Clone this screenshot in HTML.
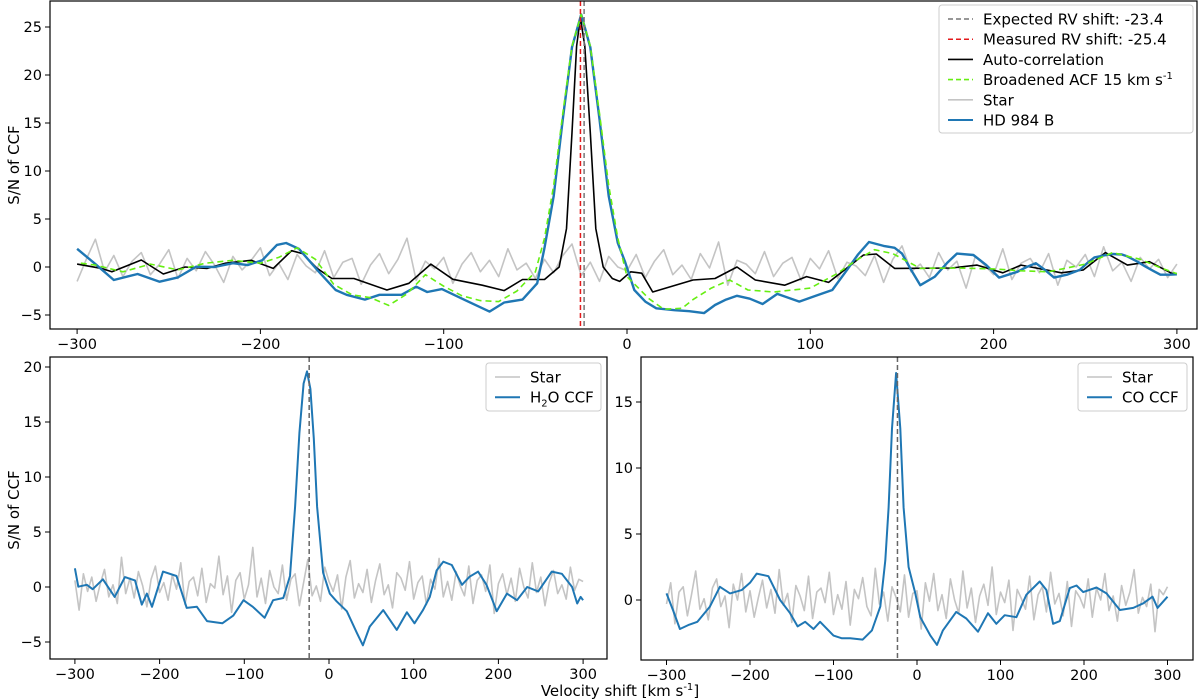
<!DOCTYPE html>
<html><head><meta charset="utf-8">
<style>
html,body{margin:0;padding:0;background:#fff;}
svg{display:block;font-family:"DejaVu Sans","Liberation Sans",sans-serif;}
</style></head>
<body>
<svg id="chart" width="1200" height="700" viewBox="0 0 1200 700" xmlns="http://www.w3.org/2000/svg"></svg>
<script>
const xTicks = [-300,-200,-100,0,100,200,300];
const topYTicks = [-5,0,5,10,15,20,25];
const h2oYTicks = [-5,0,5,10,15,20];
const coYTicks = [0,5,10,15];
const expectedRV = -23.4;
const measuredRV = -25.4;
const starStep = 5;

const topStar = [-1.5,0.8,2.9,-0.5,1.2,-1.0,0.6,1.5,-0.8,0.3,1.8,-1.2,0.9,-0.4,1.6,0.2,-1.6,1.1,-0.3,0.7,2.0,-0.9,0.4,-1.3,1.3,0.1,-0.6,1.7,-1.1,0.5,0.9,-1.8,0.2,1.4,-0.7,0.8,3.0,-1.4,0.6,-0.2,1.0,-1.7,0.3,1.5,-0.5,0.7,-1.0,1.9,-0.3,0.4,
-1.2,0.8,-0.6,1.2,2.4,-0.9,0.5,-1.5,1.1,0.0,-0.4,1.3,-1.1,0.6,1.8,-0.8,0.2,-1.3,1.4,-0.1,2.6,-1.9,0.7,0.3,-0.7,1.6,-1.0,0.4,1.0,-1.4,0.9,-0.2,1.7,-1.2,0.5,0.1,-0.9,1.2,-1.6,0.8,2.2,-0.5,0.3,-1.1,1.5,-0.3,0.6,-2.2,1.1,0.2,
-0.8,1.9,-1.3,0.4,0.9,-0.6,1.4,-1.9,0.7,0.0,1.3,-1.0,2.1,-0.4,0.5,-1.5,1.0,-0.2,0.8,-1.1,0.3];
const h2oStar = [0.6,-2.1,1.2,-0.4,0.9,-1.3,0.3,1.6,-0.9,0.2,-1.5,2.7,-0.6,0.8,-1.0,1.4,0.1,-1.8,0.7,1.9,-0.5,0.4,-1.2,1.1,-0.2,2.2,-1.6,0.5,0.9,-0.8,1.7,-1.4,0.3,-0.1,2.8,-0.7,1.0,-2.3,0.6,1.3,-1.1,0.2,3.6,-0.9,0.8,-1.5,1.5,0.0,-0.6,2.0,
-1.2,0.7,1.2,-1.7,0.4,2.5,-0.8,0.1,-1.3,1.8,0.5,-0.4,1.1,-2.0,0.9,2.4,-1.0,0.3,-0.5,1.6,-1.4,0.6,2.1,-0.7,0.2,-1.9,1.3,0.8,-0.3,2.3,-1.1,0.4,1.0,-1.6,0.7,-0.2,2.6,-0.9,0.5,-1.2,1.4,0.1,-0.8,1.9,-1.5,0.6,1.1,-0.4,2.0,-2.4,
0.3,1.2,-0.7,0.8,-1.3,1.7,0.0,-1.0,2.2,-0.5,0.9,-1.7,0.4,1.5,-0.6,0.2,-1.1,1.8,-0.3,0.7,0.5];
const coStar = [-0.3,1.3,-1.8,0.6,1.0,-1.2,0.4,2.2,-0.7,0.1,-1.5,0.9,1.6,-0.5,0.3,-2.1,1.2,0.0,2.0,-0.9,0.7,-1.3,0.2,1.5,-0.6,0.8,-1.0,2.3,-0.4,0.5,-1.7,1.1,0.3,-0.8,1.8,-1.4,0.6,0.9,-0.2,2.1,-1.1,0.4,-0.7,1.4,-1.9,0.8,0.1,1.7,-0.5,-1.2,
2.4,-0.3,0.6,-1.6,1.0,0.2,-0.9,1.9,-1.3,0.5,0.7,-2.2,1.3,-0.1,2.0,-0.8,0.4,-1.4,1.6,0.0,-1.0,2.2,-0.6,0.9,-1.7,0.3,1.2,-0.4,2.5,-1.1,0.6,-0.2,1.5,-2.3,0.8,0.1,-0.7,1.8,-1.5,0.4,1.0,-0.9,2.1,-0.3,0.5,-1.2,1.4,-2.0,0.7,0.2,
-0.6,1.6,-1.3,0.9,0.0,2.0,-0.8,0.3,-1.6,1.1,-0.4,0.6,2.3,-1.0,0.2,-0.5,1.2,-2.4,0.8,0.4,1.0];

const topPlanet = [[-300,1.9],[-290,0.3],[-280,-1.35],[-267,-0.73],[-255,-1.53],[-245,-1.08],[-235,0.03],[-225,0],[-215,0.4],[-207,0.2],[-199,0.7],[-191,2.3],[-186,2.5],[-179,1.9],[-169,-0.3],[-159,-2.4],[-153,-2.9],[-143,-3.4],[-135,-2.9],[-123,-2.9],[-115,-2.05],[-109,-2.6],[-101,-2.3],[-89,-3.4],[-75,-4.65],[-67,-3.7],[-57,-3.4],[-49,-1.7],[-45,2.0],[-40,7.4],[-35,15.4],[-30,22.9],[-25,26.3],[-20,22.9],[-15,15.4],[-10,7.4],[-5,2.5],[-1,0.5],[4,-2.4],[10,-3.6],[16,-4.3],[26,-4.5],[34,-4.6],[42,-4.8],[48,-3.96],[54,-3.4],[60,-3.0],[67,-3.3],[74,-3.85],[82,-2.8],[88,-3.2],[94,-3.6],[103,-3.0],[112,-2.4],[120,-0.3],[126,1.3],[132,2.6],[140,2.2],[146,2.0],[150,1.4],[155,-0.3],[160,-1.9],[168,-1.0],[175,0.5],[180,1.4],[189,1.25],[196,0.2],[203,-1.1],[208,-0.8],[213,-0.5],[218,0],[223,0.4],[228,-0.3],[233,-1.1],[240,-0.8],[247,-0.3],[251,0.4],[255,1.0],[260,1.2],[265,1.35],[270,1.3],[273,1.1],[278,0.6],[283,0.03],[287,-0.4],[291,-0.8],[296,-0.8],[300,-0.76]];
const topACF = [[-300,0.3],[-287,-0.14],[-281,-0.5],[-265,0.73],[-253,-0.73],[-241,0],[-229,-0.15],[-219,0.4],[-205,0.7],[-193,-0.15],[-183,1.7],[-177,1.4],[-169,-0.15],[-161,-1.2],[-149,-1.2],[-131,-2.4],[-119,-1.7],[-107,0.3],[-95,-1.28],[-79,-1.9],[-67,-2.46],[-57,-1.3],[-45,-1.3],[-37,0],[-33,4],[-30,14],[-27.5,23],[-25.4,26],[-23,23],[-20,14],[-17,4],[-13,0],[-8,-1.2],[-4,-1.5],[2,-0.5],[8,-0.65],[14,-2.6],[36,-1.35],[48,-1.2],[60,0],[70,-1.35],[86,-1.9],[98,-1.0],[110,-1.6],[129,1.25],[136,1.35],[146,-0.15],[177,-0.1],[191,0.2],[205,-0.6],[215,0.2],[237,-0.6],[249,-0.3],[261,1.5],[273,0.2],[285,0.55],[297,-0.65],[300,-0.7]];
const topBroadACF = [[-298,0.4],[-290,0.2],[-275,-0.5],[-260,0.3],[-245,-0.3],[-230,0.4],[-215,0.7],[-200,0.4],[-190,1.0],[-180,2.0],[-170,0.8],[-160,-1.8],[-150,-2.9],[-140,-3.2],[-130,-4.0],[-120,-2.8],[-110,-0.8],[-100,-2.0],[-90,-3.0],[-80,-3.5],[-70,-3.6],[-60,-2.5],[-50,-0.5],[-45,3],[-40,8.5],[-35,16],[-30,23],[-25,26.3],[-20,23],[-15,16],[-10,8.5],[-5,3],[0,-1.0],[12,-3.3],[20,-4.4],[30,-4.3],[36,-3.4],[46,-2.2],[56,-1.35],[66,-2.4],[80,-2.6],[100,-2.2],[115,-0.65],[125,0.7],[135,1.8],[145,1.4],[160,-0.15],[180,-0.1],[200,-0.2],[215,-0.4],[230,-0.5],[250,0.3],[265,1.5],[280,0.8],[290,0],[300,-0.7]];
const h2oCCF = [[-300,1.7],[-296,0.03],[-286,0.2],[-279,-0.2],[-267,0.7],[-253,-0.9],[-241,0.9],[-229,0.6],[-221,-1.6],[-215,-0.6],[-209,-1.8],[-196,1.4],[-180,1.0],[-168,-1.9],[-156,-1.8],[-144,-3.1],[-126,-3.3],[-113,-2.6],[-101,-1.2],[-90,-1.8],[-76,-2.8],[-66,-1.2],[-54,-1.0],[-46,1.0],[-40,7.3],[-35,14],[-30,18.5],[-26,19.6],[-22,18],[-18,13.5],[-14,7.3],[-7,1.3],[1,-0.6],[9,-1.3],[21,-2.2],[33,-4.2],[40,-5.3],[48,-3.6],[64,-2.1],[80,-3.9],[92,-2.3],[101,-3.3],[111,-2.1],[119,-0.9],[127,1.5],[135,2.3],[145,2.0],[157,0.2],[166,0.94],[176,1.4],[186,0.2],[198,-2.2],[210,-0.6],[222,-1.2],[234,0],[247,-0.4],[263,1.4],[275,1.2],[287,0],[293,-1.5],[297,-0.9],[300,-1.2]];
const coCCF = [[-300,0.5],[-292,-0.8],[-284,-2.2],[-274,-1.9],[-263,-1.65],[-248,-0.5],[-236,1.0],[-224,0.5],[-210,0.75],[-200,1.3],[-192,2.0],[-178,1.8],[-164,0],[-152,-1.0],[-143,-2.0],[-134,-1.65],[-124,-2.2],[-116,-1.65],[-100,-2.7],[-90,-2.9],[-80,-2.9],[-65,-3.0],[-54,-2.3],[-44,-0.5],[-38,3.0],[-34,7],[-30,13],[-25,17.2],[-20,13],[-16,7],[-10,2.5],[-2,0.5],[4,-1.3],[16,-2.7],[24,-3.4],[31,-2.3],[47,-0.9],[59,-1.4],[73,-2.4],[85,-1.0],[95,-1.8],[105,-1.15],[119,-1.3],[131,0.4],[147,1.4],[155,0.76],[163,-1.8],[171,-1.6],[183,0.9],[191,1.1],[199,0.6],[215,0.95],[227,0.5],[243,-0.76],[259,-0.6],[271,-0.25],[282,0.25],[288,-0.6],[300,0.25]];

const NS = "http://www.w3.org/2000/svg";
const svg = document.getElementById('chart');
function mk(tag, attrs, parent, text) {
  const e = document.createElementNS(NS, tag);
  for (const k in attrs) e.setAttribute(k, attrs[k]);
  if (text !== undefined) e.textContent = text;
  (parent || svg).appendChild(e);
  return e;
}
function makeAxis(x0, x1, y0, y1, vx0, sx, vy0, sy) {
  return { x0, x1, y0, y1, X: v => vx0 + sx * v, Y: v => vy0 - sy * v };
}
const topAx = makeAxis(50, 1197, 1, 329, 627, 1.833, 267, 9.6);
const h2oAx = makeAxis(50, 607, 357, 659, 329, 0.847, 587, 11);
const coAx = makeAxis(641, 1193, 357, 660, 917, 0.835, 600, 13.2);

function linePts(ax, pts) { return pts.map(p => ax.X(p[0]).toFixed(1) + ',' + ax.Y(p[1]).toFixed(1)).join(' '); }
function starPts(ax, arr) { return arr.map((v, i) => ax.X(-300 + i * starStep).toFixed(1) + ',' + ax.Y(v).toFixed(1)).join(' '); }

function drawFrame(ax, yTicks, g) {
  mk('rect', { x: ax.x0, y: ax.y0, width: ax.x1 - ax.x0, height: ax.y1 - ax.y0, fill: 'none', stroke: '#000', 'stroke-width': 1.2 }, g);
  xTicks.forEach(t => {
    const x = ax.X(t);
    const tk = mk('line', { x1: x, x2: x, y1: ax.y1, y2: ax.y1 + 5, stroke: '#000', 'stroke-width': 1 }, g);
    
    
    const lb = mk('text', { x: x, y: ax.y1 + 20, 'text-anchor': 'middle', 'font-size': 14.5, fill: '#000' }, g, (t < 0 ? '\u2212' + (-t) : String(t)));
    
    
  });
  yTicks.forEach(t => {
    const y = ax.Y(t);
    const tk = mk('line', { x1: ax.x0 - 5, x2: ax.x0, y1: y, y2: y, stroke: '#000', 'stroke-width': 1 }, g);
    
    
    const lb = mk('text', { x: ax.x0 - 8, y: y + 5, 'text-anchor': 'end', 'font-size': 14.5, fill: '#000' }, g, (t < 0 ? '\u2212' + (-t) : String(t)));
    
    
  });
}
function series(ax, pts, attrs, clip, g, name, isStar) {
  const a = Object.assign({ points: isStar ? starPts(ax, pts) : linePts(ax, pts), fill: 'none', 'clip-path': 'url(#' + clip + ')', 'stroke-linejoin': 'round' }, attrs);
  const e = mk('polyline', a, g);
  
  
  return e;
}
function vline(ax, v, color, clip, g, name) {
  const e = mk('line', { x1: ax.X(v), x2: ax.X(v), y1: ax.y0, y2: ax.y1, stroke: color, 'stroke-width': 1.5, 'stroke-dasharray': '5,3', 'clip-path': 'url(#' + clip + ')' }, g);
  
  
}
function legend(g, x, y, w, h, rows) {
  mk('rect', { x: x, y: y, width: w, height: h, rx: 3, fill: '#fff', 'fill-opacity': 0.85, stroke: '#ccc', 'stroke-width': 1 }, g);
  rows.forEach((r, i) => {
    const cy = y + 14 + i * 20.2;
    const ent = mk('g', {}, g);
    
    
    mk('line', { x1: x + 9, x2: x + 34, y1: cy, y2: cy, stroke: r.color, 'stroke-width': r.w, 'stroke-dasharray': r.dash || 'none' }, ent);
    const t = mk('text', { x: x + 44, y: cy + 5.5, 'font-size': 15, fill: '#000' }, ent);
    t.innerHTML = r.label;
  });
}

const defs = mk('defs', {});
[[topAx, 'clipTop'], [h2oAx, 'clipH2O'], [coAx, 'clipCO']].forEach(c => {
  const cp = mk('clipPath', { id: c[1] }, defs);
  mk('rect', { x: c[0].x0, y: c[0].y0, width: c[0].x1 - c[0].x0, height: c[0].y1 - c[0].y0 }, cp);
});

const gTop = mk('g', {});


series(topAx, topStar, { stroke: '#c4c4c4', 'stroke-width': 1.6 }, 'clipTop', gTop, 'star-ccf-line', true);
series(topAx, topACF, { stroke: '#000', 'stroke-width': 1.6 }, 'clipTop', gTop, 'auto-correlation-line');
series(topAx, topPlanet, { stroke: '#1f77b4', 'stroke-width': 2.4 }, 'clipTop', gTop, 'hd984b-ccf-line');
series(topAx, topBroadACF, { stroke: '#66ee11', 'stroke-width': 1.6, 'stroke-dasharray': '6,4' }, 'clipTop', gTop, 'broadened-acf-line');
vline(topAx, measuredRV, '#e31a1c', 'clipTop', gTop, 'measured-rv-line');
vline(topAx, expectedRV, '#777', 'clipTop', gTop, 'expected-rv-line');
drawFrame(topAx, topYTicks, gTop);
const gLegTop = mk('g', {}, gTop);


legend(gLegTop, 939, 5, 254, 128, [
  { color: '#777', w: 1.5, dash: '5,3', label: 'Expected RV shift: -23.4' },
  { color: '#e31a1c', w: 1.5, dash: '5,3', label: 'Measured RV shift: -25.4' },
  { color: '#000', w: 1.6, label: 'Auto-correlation' },
  { color: '#66ee11', w: 1.6, dash: '5,3', label: 'Broadened ACF 15 km s<tspan dy="-6" font-size="10">-1</tspan>' },
  { color: '#c4c4c4', w: 1.6, label: 'Star' },
  { color: '#1f77b4', w: 2, label: 'HD 984 B' }
]);

const gH = mk('g', {});


series(h2oAx, h2oStar, { stroke: '#c4c4c4', 'stroke-width': 1.6 }, 'clipH2O', gH, 'star-ccf-line', true);
series(h2oAx, h2oCCF, { stroke: '#1f77b4', 'stroke-width': 2 }, 'clipH2O', gH, 'h2o-ccf-line');
vline(h2oAx, expectedRV, '#666', 'clipH2O', gH, 'expected-rv-line');
drawFrame(h2oAx, h2oYTicks, gH);
const gLegH = mk('g', {}, gH);


legend(gLegH, 486, 363, 115, 48, [
  { color: '#c4c4c4', w: 1.6, label: 'Star' },
  { color: '#1f77b4', w: 2, label: 'H<tspan dy="4" font-size="10">2</tspan><tspan dy="-4">O CCF</tspan>' }
]);

const gC = mk('g', {});


series(coAx, coStar, { stroke: '#c4c4c4', 'stroke-width': 1.6 }, 'clipCO', gC, 'star-ccf-line', true);
series(coAx, coCCF, { stroke: '#1f77b4', 'stroke-width': 2 }, 'clipCO', gC, 'co-ccf-line');
vline(coAx, expectedRV, '#666', 'clipCO', gC, 'expected-rv-line');
drawFrame(coAx, coYTicks, gC);
const gLegC = mk('g', {}, gC);


legend(gLegC, 1078, 363, 109, 48, [
  { color: '#c4c4c4', w: 1.6, label: 'Star' },
  { color: '#1f77b4', w: 2, label: 'CO CCF' }
]);

const yt1 = mk('text', { x: 0, y: 0, transform: 'translate(19,165) rotate(-90)', 'text-anchor': 'middle', 'font-size': 15, fill: '#000' }, svg, 'S/N of CCF');


const yt2 = mk('text', { x: 0, y: 0, transform: 'translate(19,510) rotate(-90)', 'text-anchor': 'middle', 'font-size': 15, fill: '#000' }, svg, 'S/N of CCF');


const xt = mk('text', { x: 620, y: 696, 'text-anchor': 'middle', 'font-size': 15, fill: '#000' }, svg);
xt.innerHTML = 'Velocity shift [km s<tspan dy="-6" font-size="10">-1</tspan><tspan dy="6">]</tspan>';


</script>
</body></html>
